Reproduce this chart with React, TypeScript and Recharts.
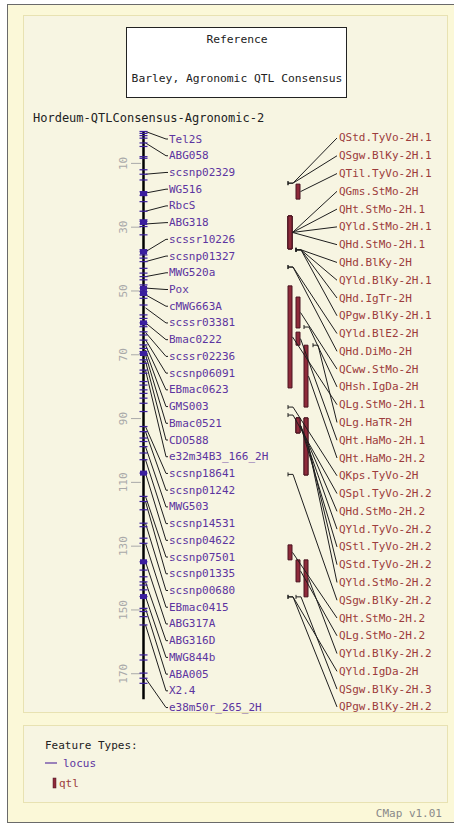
import React from 'react';
import {
  ComposedChart,
  XAxis,
  YAxis,
  Scatter,
  Line,
  ReferenceArea,
  ReferenceLine,
} from 'recharts';

// ---------------- data ----------------
const mapTitle = 'Hordeum-QTLConsensus-Agronomic-2';
const boxTitle = 'Reference';
const boxSubtitle = 'Barley, Agronomic QTL Consensus';
const axisTicks = [10, 30, 50, 70, 90, 110, 130, 150, 170];
const mapStart = 0;
const mapEnd = 178;

const lociNames = [
  'Tel2S', 'ABG058', 'scsnp02329', 'WG516', 'RbcS', 'ABG318', 'scssr10226',
  'scsnp01327', 'MWG520a', 'Pox', 'cMWG663A', 'scssr03381', 'Bmac0222',
  'scssr02236', 'scsnp06091', 'EBmac0623', 'GMS003', 'Bmac0521', 'CDO588',
  'e32m34B3_166_2H', 'scsnp18641', 'scsnp01242', 'MWG503', 'scsnp14531',
  'scsnp04622', 'scsnp07501', 'scsnp01335', 'scsnp00680', 'EBmac0415',
  'ABG317A', 'ABG316D', 'MWG844b', 'ABA005', 'X2.4', 'e38m50r_265_2H',
];
const lociPos = [
  0, 3.6, 13.4, 19.3, 25, 29, 37.7, 40.8, 45.5, 49.1, 51.2, 55.3, 60,
  63, 65.3, 67, 68.5, 70, 72, 74.8, 92.5, 94.1, 98.8, 102.9, 107.1,
  114.4, 116, 122.8, 129.1, 134.9, 141.2, 145.8, 149.5, 154.7, 171.4,
];

const markerPos = [
  0, 0.6, 1.3, 2.1, 3.6, 4.7, 7.9, 8.4, 12, 13.4, 15.2, 18.9, 20, 22, 25,
  27.7, 28.2, 29, 29.8, 32.4, 37.1, 37.7, 38.7, 39.7, 40.8, 42.9, 44.4,
  45.5, 46.5, 48.1, 49.1, 50.2, 51.2, 52.3, 54.4, 57.5, 58.6, 60, 61.2,
  62.8, 63.8, 65.4, 66.9, 68, 69, 69.6, 71.6, 72.7, 74.8, 75.8, 78.4, 79.5,
  81, 82.1, 83.6, 85.2, 87.8, 92.5, 94.1, 96.1, 97.2, 98.8, 100.8, 102.9,
  107.1, 114.4, 116, 118.6, 122.8, 123.9, 127.5, 129.1, 134.9, 137.5,
  139.6, 141.2, 142.2, 143.7, 145.8, 149.5, 150.5, 152.1, 154.7, 164.1,
  165.7, 169.8, 171.4, 173,
];
const clusterPos = [19.5, 28.5, 37.7, 49.2, 50.8, 60, 69.6, 107.1, 134.9, 145.8];

const qtlNames = [
  'QStd.TyVo-2H.1', 'QSgw.BlKy-2H.1', 'QTil.TyVo-2H.1', 'QGms.StMo-2H',
  'QHt.StMo-2H.1', 'QYld.StMo-2H.1', 'QHd.StMo-2H.1', 'QHd.BlKy-2H',
  'QYld.BlKy-2H.1', 'QHd.IgTr-2H', 'QPgw.BlKy-2H.1', 'QYld.BlE2-2H',
  'QHd.DiMo-2H', 'QCww.StMo-2H', 'QHsh.IgDa-2H', 'QLg.StMo-2H.1',
  'QLg.HaTR-2H', 'QHt.HaMo-2H.1', 'QHt.HaMo-2H.2', 'QKps.TyVo-2H',
  'QSpl.TyVo-2H.2', 'QHd.StMo-2H.2', 'QYld.TyVo-2H.2', 'QStl.TyVo-2H.2',
  'QStd.TyVo-2H.2', 'QYld.StMo-2H.2', 'QSgw.BlKy-2H.2', 'QHt.StMo-2H.2',
  'QLg.StMo-2H.2', 'QYld.BlKy-2H.2', 'QYld.IgDa-2H', 'QSgw.BlKy-2H.3',
  'QPgw.BlKy-2H.2',
];
const qtlStart = [
  16.2, 16.2, 16.5, 26.5, 26.5, 26.5, 26.5, 37.1, 37.1, 37.1, 37.1, 42.5,
  42.5, 51.9, 61.3, 48.4, 67, 62.9, 67, 86.4, 88.9, 89.8, 89.8, 89.8,
  89.8, 89.8, 107.5, 129.6, 134.3, 134.3, 145.9, 145.9, 145.9,
];
const qtlEnd = [
  16.2, 16.2, 21.2, 36.8, 36.8, 36.8, 36.8, 37.1, 37.1, 37.1, 37.1, 42.5,
  42.5, 61.6, 61.3, 80.4, 67, 67, 86.4, 86.4, 88.9, 94.5, 94.5, 94.5,
  107.7, 107.7, 107.5, 134.3, 141.2, 145.9, 145.9, 145.9, 145.9,
];
const qtlLane = [
  0, 0, 1, 0, 0, 0, 0, 1, 1, 1, 1, 0, 0, 1, 2, 0, 3, 1, 2, 0, 0, 1, 1, 1,
  2, 2, 0, 0, 1, 2, 0, 1, 0,
];

// ---------------- layout ----------------
const W = 454;
const H = 825;
const MONO = '"DejaVu Sans Mono", "Liberation Mono", monospace';
const X_DOMAIN: [number, number] = [141, 454];
const Y_DOMAIN: [number, number] = [-3.6, 184.5];
const BACKBONE_X = 143.5;
const LANE_X = [290, 298, 306, 315];
const LEFT_LABEL_X = 169;
const RIGHT_LABEL_X = 339;
const LEFT_SLOT_TOP = 2.36;
const LEFT_SLOT_BOTTOM = 180.6;
const RIGHT_SLOT_TOP = 2.04;
const RIGHT_SLOT_BOTTOM = 180.4;

const LOCUS_COLOR = '#5c34a0';
const MARKER_COLOR = '#3b1e9e';
const QTL_TEXT = '#9c3c3c';
const QTL_FILL = '#8e2a3a';
const QTL_STROKE = '#4a1420';
const LINE_COLOR = '#1e1e1e';

const slots = (n: number, a: number, b: number) =>
  Array.from({ length: n }, (_, i) => a + ((b - a) * i) / (n - 1));

const leftSlots = slots(lociNames.length, LEFT_SLOT_TOP, LEFT_SLOT_BOTTOM);
const rightSlots = slots(qtlNames.length, RIGHT_SLOT_TOP, RIGHT_SLOT_BOTTOM);

const markerData = markerPos.map((p) => ({ x: BACKBONE_X, y: p }));
const clusterData = clusterPos.map((p) => ({ x: BACKBONE_X, y: p }));

const leftLabelData = lociNames.map((name, i) => ({ x: LEFT_LABEL_X, y: leftSlots[i], name }));
const leftConn = lociNames.flatMap((_, i) => [
  { x: BACKBONE_X + 2, y: lociPos[i] },
  { x: LEFT_LABEL_X - 3, y: leftSlots[i] },
  { x: LEFT_LABEL_X - 1, y: leftSlots[i] },
  { x: LEFT_LABEL_X - 1, y: null },
]);

const qtls = qtlNames.map((name, i) => ({
  name,
  start: qtlStart[i],
  end: qtlEnd[i],
  lane: qtlLane[i],
  slot: rightSlots[i],
}));
const rightLabelData = qtls.map((q) => ({ x: RIGHT_LABEL_X, y: q.slot, name: q.name }));
const rightConn = qtls.flatMap((q) => {
  const isPoint = q.start === q.end;
  const ex = LANE_X[q.lane] + (isPoint ? 3 : 2.5);
  const ey = isPoint ? q.start : (q.start + q.end) / 2;
  return [
    { x: ex, y: ey },
    { x: RIGHT_LABEL_X - 2, y: q.slot },
    { x: RIGHT_LABEL_X - 2, y: null },
  ];
});
const allConn = [...leftConn, ...rightConn];
const pointQtlData = qtls
  .filter((q) => q.start === q.end)
  .map((q) => ({ x: LANE_X[q.lane], y: q.start }));
const barQtls = qtls.filter((q) => q.start !== q.end);

// ---------------- shapes ----------------
const AxisTick = (props: any) => {
  const { x, y, payload } = props;
  const cx = x - 5;
  return (
    <text
      x={cx}
      y={y}
      transform={`rotate(-90 ${cx} ${y})`}
      textAnchor="middle"
      dominantBaseline="central"
      fill="#a9a9a9"
      fontSize={11}
      fontFamily={MONO}
    >
      {payload.value}
    </text>
  );
};

const MarkerShape = (props: any) => (
  <rect x={props.cx - 4} y={props.cy - 0.6} width={8} height={1.2} fill={MARKER_COLOR} />
);
const ClusterShape = (props: any) => (
  <rect x={props.cx - 3.5} y={props.cy - 2.5} width={7} height={5} fill={MARKER_COLOR} />
);
const PointQtlShape = (props: any) => (
  <path
    d={`M${props.cx - 2},${props.cy - 2}v4M${props.cx - 2},${props.cy}h5`}
    stroke={LINE_COLOR}
    strokeWidth={1}
    fill="none"
  />
);
const makeLabel = (color: string) => (props: any) => (
  <text
    x={props.cx}
    y={props.cy}
    dominantBaseline="central"
    fill={color}
    fontSize={11}
    fontFamily={MONO}
  >
    {props.payload.name}
  </text>
);
const LeftLabel = makeLabel(LOCUS_COLOR);
const RightLabel = makeLabel(QTL_TEXT);

export default function App() {
  return (
    <div style={{ position: 'absolute', left: 0, top: 0, width: W, height: H, overflow: 'hidden', background: '#fff' }}>
      <svg width={W} height={H} style={{ position: 'absolute', left: 0, top: 0 }}>
        <rect x={7.5} y={4.5} width={470} height={818} fill="#fbf8d8" stroke="#6a6a6a" />
        <rect x={23.5} y={15.5} width={424} height={697} fill="#f7f5e2" stroke="#e8e2b2" />
        <rect x={126.5} y={27.5} width={220} height={70} fill="#ffffff" stroke="#222" />
        <text x={237} y={39} textAnchor="middle" dominantBaseline="central" fontSize={11.3} fontFamily={MONO} fill="#222">
          {boxTitle}
        </text>
        <text x={237} y={78} textAnchor="middle" dominantBaseline="central" fontSize={11.3} fontFamily={MONO} fill="#222">
          {boxSubtitle}
        </text>
        <text x={33} y={118} dominantBaseline="central" fontSize={12} fontFamily={MONO} fill="#222">
          {mapTitle}
        </text>
        <rect x={23.5} y={725.5} width={424} height={77} fill="#f7f5e2" stroke="#e8e2b2" />
        <text x={45} y={745} dominantBaseline="central" fontSize={11} fontFamily={MONO} fill="#222">
          Feature Types:
        </text>
        <line x1={45} x2={57} y1={763} y2={763} stroke={LOCUS_COLOR} strokeWidth={1.2} />
        <text x={63} y={763} dominantBaseline="central" fontSize={11} fontFamily={MONO} fill={LOCUS_COLOR}>
          locus
        </text>
        <rect x={53} y={778} width={3} height={10} fill={QTL_FILL} stroke={QTL_STROKE} strokeWidth={0.5} />
        <text x={59} y={783} dominantBaseline="central" fontSize={11} fontFamily={MONO} fill={QTL_TEXT}>
          qtl
        </text>
        <text x={442} y={813} textAnchor="end" dominantBaseline="central" fontSize={11} fontFamily={MONO} fill="#8a8a8a">
          CMap v1.01
        </text>
      </svg>
      <div style={{ position: 'absolute', left: 0, top: 0 }}>
        <ComposedChart width={W} height={H} margin={{ top: 120, right: 0, bottom: 105, left: 0 }}>
          <XAxis type="number" dataKey="x" domain={X_DOMAIN} hide height={0} />
          <YAxis
            type="number"
            dataKey="y"
            domain={Y_DOMAIN}
            reversed
            width={141}
            ticks={axisTicks}
            interval={0}
            tickSize={10}
            axisLine={false}
            tickLine={{ stroke: '#a9a9a9' }}
            tick={<AxisTick />}
          />
          <Line
            data={allConn}
            dataKey="y"
            type="linear"
            stroke={LINE_COLOR}
            strokeWidth={1}
            dot={false}
            activeDot={false}
            connectNulls={false}
            isAnimationActive={false}
          />
          <Scatter data={markerData} shape={MarkerShape} isAnimationActive={false} />
          <Scatter data={clusterData} shape={ClusterShape} isAnimationActive={false} />
          <ReferenceLine
            segment={[{ x: BACKBONE_X, y: mapStart }, { x: BACKBONE_X, y: mapEnd }]}
            stroke="#000"
            strokeWidth={2.5}
            ifOverflow="visible"
          />
          {barQtls.map((q, i) => (
            <ReferenceArea
              key={`q${i}`}
              x1={LANE_X[q.lane] - 2}
              x2={LANE_X[q.lane] + 2}
              y1={q.start}
              y2={q.end}
              fill={QTL_FILL}
              fillOpacity={1}
              stroke={QTL_STROKE}
              strokeWidth={1}
              ifOverflow="visible"
            />
          ))}
          <Scatter data={pointQtlData} shape={PointQtlShape} isAnimationActive={false} />
          <Scatter data={leftLabelData} shape={LeftLabel} isAnimationActive={false} />
          <Scatter data={rightLabelData} shape={RightLabel} isAnimationActive={false} />
        </ComposedChart>
      </div>
    </div>
  );
}
